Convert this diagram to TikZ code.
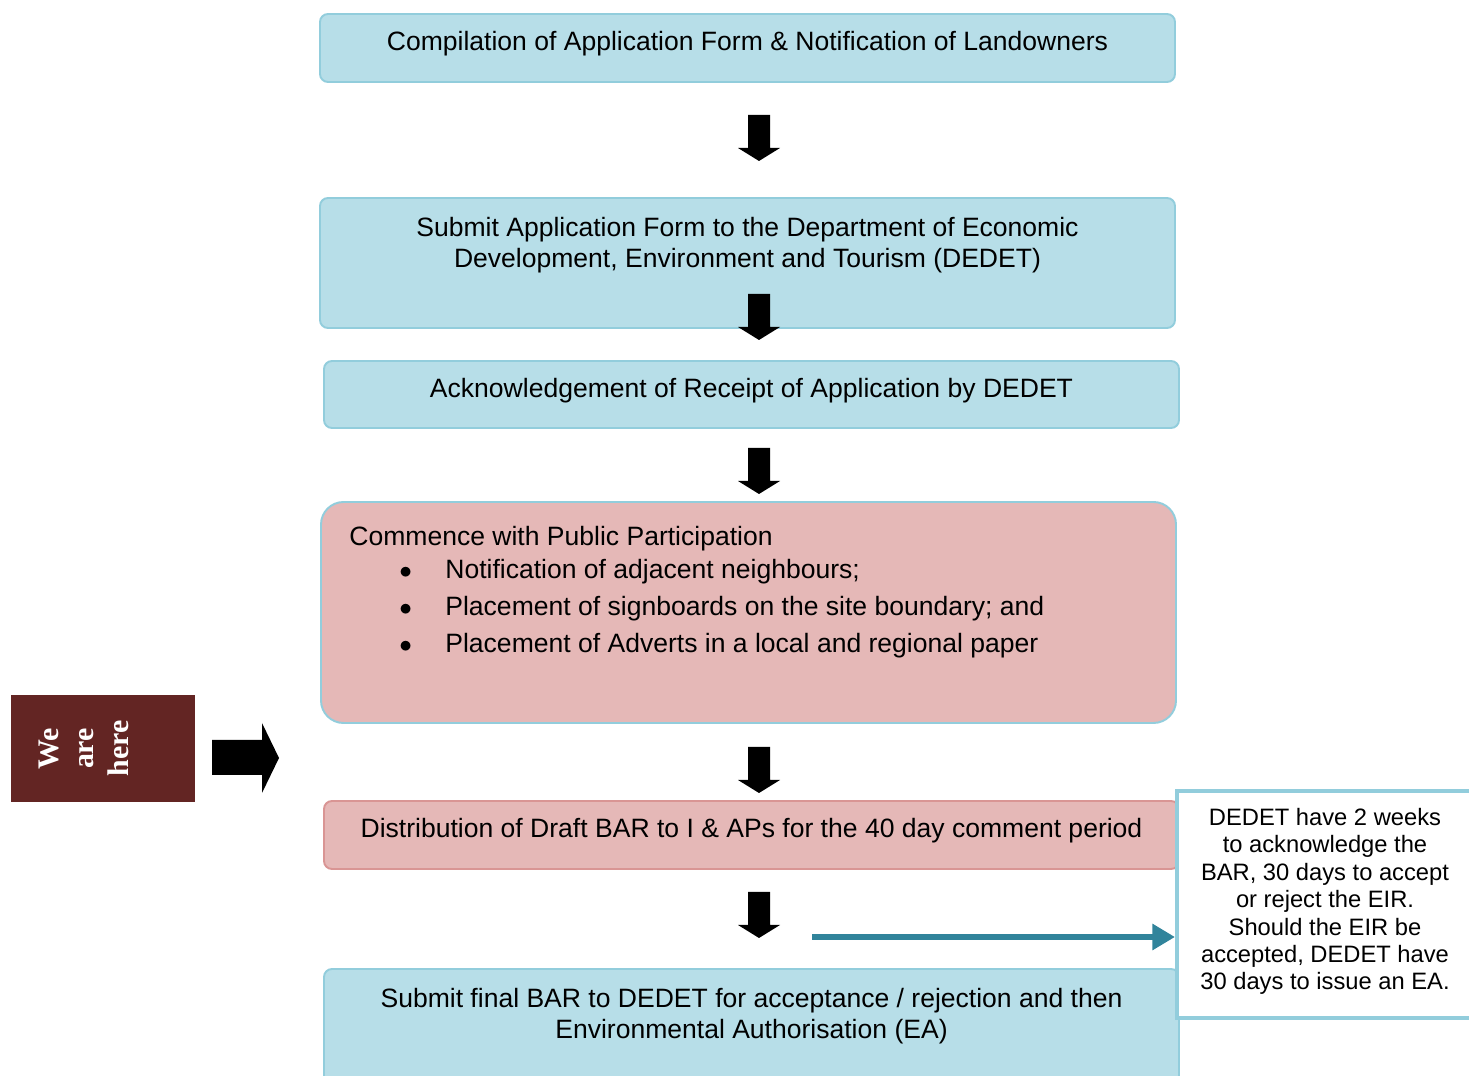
\documentclass[tikz,border=0pt]{standalone}
\usepackage{fontspec}
\setmainfont{Liberation Sans}
\newfontfamily\herefont{Liberation Serif}
\usetikzlibrary{arrows.meta,positioning}

\definecolor{boxblue}{HTML}{B7DEE8}
\definecolor{edgeblue}{HTML}{92CDDC}
\definecolor{boxpink}{HTML}{E5B8B7}
\definecolor{edgepink}{HTML}{D99594}
\definecolor{arrowteal}{HTML}{31849B}
\definecolor{herered}{HTML}{632523}

\begin{document}
\begin{tikzpicture}[
    txt/.style={font=\fontsize{15.1}{17.3}\selectfont, align=center, inner sep=0pt},
    oneline/.style={text height=0.7em, text depth=0.4em},
    bluebox/.style={rectangle, rounded corners=0.16cm, draw=edgeblue, fill=boxblue, line width=1.1pt, minimum width=17.1cm},
    pinkbox/.style={rectangle, rounded corners=0.16cm, draw=edgepink, fill=boxpink, line width=1.1pt, minimum width=17.1cm},
    notebox/.style={rectangle, draw=edgeblue, fill=white, line width=2.3pt, minimum width=6.26cm, minimum height=4.54cm},
    herebox/.style={rectangle, fill=herered, minimum width=3.68cm, minimum height=2.14cm},
    fatarrow/.style={fill=black},
    link/.style={-{Triangle[length=0.45cm,width=0.5cm]}, arrowteal, line width=3.4pt}
]

\useasboundingbox (0,0) rectangle (29.38,21.5);
\clip (0,0) rectangle (29.38,21.5);

% Steps
\node[bluebox, txt, oneline, minimum height=1.36cm] (compile) at (14.95,20.54)
    {Compilation of Application Form \& Notification of Landowners};

\node[bluebox, minimum height=2.6cm] (submit) at (14.95,16.24) {};
\node[txt] (submittxt) at ([yshift=0.36cm]submit.center)
    {Submit Application Form to the Department of Economic\\Development, Environment and Tourism (DEDET)};

\node[bluebox, txt, oneline, minimum height=1.34cm] (ack) at (15.03,13.61)
    {Acknowledgement of Receipt of Application by DEDET};

\node[pinkbox, draw=edgeblue, rounded corners=0.45cm, minimum height=4.42cm] (public) at (14.97,9.25) {};
\node[txt, align=left, anchor=north west] (publictxt) at ([xshift=0.58cm, yshift=-0.5cm]public.north west)
    {Commence with Public Participation\\[1.4pt]
     \hspace*{1.0cm}\makebox[0.92cm][l]{$\bullet$}Notification of adjacent neighbours;\\[3.7pt]
     \hspace*{1.0cm}\makebox[0.92cm][l]{$\bullet$}Placement of signboards on the site boundary; and\\[3.7pt]
     \hspace*{1.0cm}\makebox[0.92cm][l]{$\bullet$}Placement of Adverts in a local and regional paper};

\node[pinkbox, txt, oneline, minimum height=1.36cm] (draft) at (15.03,4.8)
    {Distribution of Draft BAR to I \& APs for the 40 day comment period};

\node[bluebox, minimum height=2.52cm] (final) at (15.03,0.86) {};
\node[txt] (finaltxt) at ([yshift=0.32cm]final.center)
    {Submit final BAR to DEDET for acceptance / rejection and then\\[0.3pt]Environmental Authorisation (EA)};

% Arrows between the steps
\foreach \y in {19.2,15.62,12.54,6.56,3.66} {
    \fill[fatarrow] (14.96,\y) -- ++(0.44,0) -- ++(0,-0.66) -- ++(0.2,0)
        -- ++(-0.42,-0.26) -- ++(-0.42,0.26) -- ++(0.2,0) -- cycle;
}

% We are here
\node[herebox] (here) at (2.06,6.53) {};
\node[text=white, font=\herefont\bfseries\fontsize{17}{20}\selectfont, rotate=90, align=center, inner sep=0pt]
    (heretxt) at (1.68,6.53) {We\\are\\here};
\fill[fatarrow] (4.24,6.0) -- (5.24,6.0) -- (5.24,5.64) -- (5.58,6.34)
    -- (5.24,7.04) -- (5.24,6.7) -- (4.24,6.7) -- cycle;

% Time frames
\node[notebox] (note) at (26.67,3.41) {};
\node[txt, font=\fontsize{13.5}{15.6}\selectfont] (notetxt) at (26.5,3.47)
    {DEDET have 2 weeks\\to acknowledge the\\BAR, 30 days to accept\\or reject the EIR.\\Should the EIR be\\accepted, DEDET have\\30 days to issue an EA.};

\coordinate (linkstart) at (16.24,2.76);
\draw[link] (linkstart) -- (linkstart -| note.west);

\end{tikzpicture}
\end{document}
